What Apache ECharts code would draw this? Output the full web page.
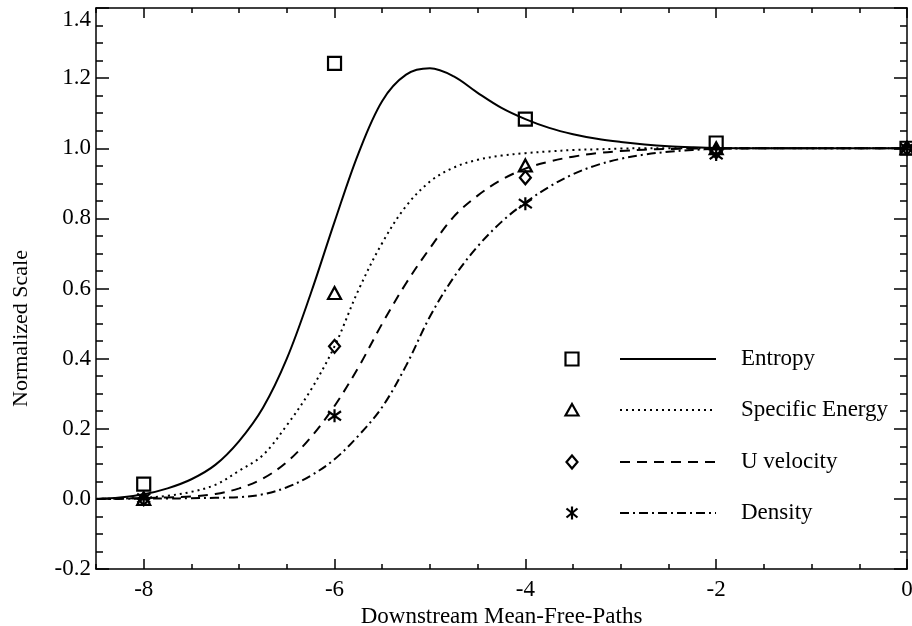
<!DOCTYPE html>
<html><head><meta charset="utf-8">
<script src="https://cdn.jsdelivr.net/npm/echarts@6/dist/echarts.min.js"></script>
<style>html,body{margin:0;padding:0;background:#fff}#c{width:912px;height:626px}</style>
</head><body><div id="c"></div>
<script>
// ---- data ----
const curveX = [-8.5,-8.25,-8,-7.75,-7.5,-7.25,-7,-6.75,-6.5,-6.25,-6,-5.75,-5.5,-5.25,-5,-4.75,-4.5,-4.25,-4,-3.75,-3.5,-3.25,-3,-2.75,-2.5,-2.25,-2,-1.5,-1,-0.5,0];
const entropyCurve = [0,0.004,0.013,0.03,0.056,0.097,0.165,0.26,0.40,0.585,0.79,0.985,1.135,1.21,1.228,1.205,1.158,1.115,1.083,1.058,1.04,1.027,1.018,1.011,1.006,1.003,1.001,1.0,1.0,1.0,1.0];
const energyCurve = [0,0.001,0.003,0.009,0.02,0.04,0.08,0.125,0.21,0.31,0.435,0.595,0.73,0.835,0.905,0.945,0.967,0.979,0.986,0.991,0.995,0.997,0.999,1.0,1.0,1.0,1.0,1.0,1.0,1.0,1.0];
const velocityCurve = [0,0.001,0.002,0.004,0.007,0.014,0.03,0.058,0.105,0.175,0.265,0.375,0.50,0.615,0.715,0.805,0.865,0.91,0.942,0.962,0.976,0.986,0.992,0.996,0.998,0.999,1.0,1.0,1.0,1.0,1.0];
const densityCurve = [0,0,0.001,0.001,0.002,0.003,0.005,0.013,0.033,0.066,0.113,0.18,0.262,0.38,0.52,0.632,0.72,0.79,0.845,0.89,0.926,0.952,0.97,0.982,0.99,0.995,0.998,1.0,1.0,1.0,1.0];

const markerX = [-8,-6,-4,-2,0];
const entropyMarks = [0.042,1.242,1.083,1.015,1.0];
const energyMarks = [0.0,0.587,0.951,1.0,1.0];
const velocityMarks = [0.0,0.435,0.916,0.99,1.0];
const densityMarks = [0.002,0.237,0.842,0.982,1.0];

const seriesNames = ['Entropy','Specific Energy','U velocity','Density'];
const xMajorTicks = [-8,-6,-4,-2,0];
const xName = 'Downstream Mean-Free-Paths';
const yName = 'Normalized Scale';

// ---- styles ----
const FONT = '"Liberation Serif", "Times New Roman", serif';
const BLACK = '#000';
const dashes = ['solid', [2,4], [10,7], [9,4,2,4]];
const starPath = 'path://M10,0L10,20M1.5,3L18.5,17M1.5,17L18.5,3';
const symbols = [
  {symbol:'rect', size:13},
  {symbol:'triangle', size:[13,12]},
  {symbol:'diamond', size:[11,13]},
  {symbol:starPath, size:13}
];
const curves = [entropyCurve, energyCurve, velocityCurve, densityCurve];
const marks = [entropyMarks, energyMarks, velocityMarks, densityMarks];

const zip = (xs, ys) => xs.map((x,i)=>[x, ys[i]]);

const series = [];
curves.forEach((c,i)=>{
  series.push({
    name: seriesNames[i], type:'line', data: zip(curveX, c),
    smooth: 0.35, showSymbol:false, symbol:'none',
    lineStyle:{color:BLACK, width:2, type:dashes[i]}, z:2, silent:true
  });
});
marks.forEach((m,i)=>{
  series.push({
    name: seriesNames[i]+' data', type:'scatter', data: zip(markerX, m),
    symbol: symbols[i].symbol, symbolSize: symbols[i].size,
    itemStyle:{color:'transparent', borderColor:BLACK, borderWidth:2.2, opacity:1},
    z:3, silent:true
  });
});

const hiddenLine = {show:false, onZero:false};
const axisCommon = {
  type:'value', min:-8.5, max:0,
  splitLine:{show:false},
  axisLine:{show:true, onZero:false, lineStyle:{color:BLACK, width:1.5}}
};
const xAxes = [
  Object.assign({}, axisCommon, {position:'bottom',
    axisTick:{show:true, inside:true, length:10, customValues:xMajorTicks, lineStyle:{color:BLACK, width:1.5}},
    axisLabel:{show:true, customValues:xMajorTicks, color:BLACK, fontFamily:FONT, fontSize:23, margin:9},
    name:xName, nameLocation:'middle', nameGap:33,
    nameTextStyle:{color:BLACK, fontFamily:FONT, fontSize:23}}),
  Object.assign({}, axisCommon, {position:'bottom', interval:0.5, axisLine:hiddenLine,
    axisTick:{show:true, inside:true, length:5, lineStyle:{color:BLACK, width:1.5}},
    axisLabel:{show:false}}),
  Object.assign({}, axisCommon, {position:'top',
    axisTick:{show:true, inside:true, length:10, customValues:xMajorTicks, lineStyle:{color:BLACK, width:1.5}},
    axisLabel:{show:false}}),
  Object.assign({}, axisCommon, {position:'top', interval:0.5, axisLine:hiddenLine,
    axisTick:{show:true, inside:true, length:5, lineStyle:{color:BLACK, width:1.5}},
    axisLabel:{show:false}})
];
const yCommon = {
  type:'value', min:-0.2, max:1.4, interval:0.2,
  splitLine:{show:false},
  axisLine:{show:true, onZero:false, lineStyle:{color:BLACK, width:1.5}},
  axisTick:{show:true, inside:true, length:13, lineStyle:{color:BLACK, width:1.5}},
  minorTick:{show:true, splitNumber:4, length:7, lineStyle:{color:BLACK, width:1.5}}
};
const yAxes = [
  Object.assign({}, yCommon, {position:'left',
    axisLabel:{show:true, color:BLACK, fontFamily:FONT, fontSize:23, margin:5,
      verticalAlignMaxLabel:'top',
      formatter: v => v.toFixed(1)},
    name:yName, nameLocation:'middle', nameGap:64,
    nameTextStyle:{color:BLACK, fontFamily:FONT, fontSize:22, padding:[0,80,0,0]}}),
  Object.assign({}, yCommon, {position:'right', axisLabel:{show:false}})
];

// legend drawn as graphic elements (symbol | line sample | text)
const legendRowsY = [359, 410, 462, 513];
const symX = 572, lineX1 = 620, lineX2 = 716, textX = 741;
const graphic = [];
legendRowsY.forEach((y,i)=>{
  const st = {fill:'none', stroke:BLACK, lineWidth:2.2};
  if (i===0) graphic.push({type:'rect', shape:{x:symX-6.5, y:y-6.5, width:13, height:13}, style:st});
  if (i===1) graphic.push({type:'polygon', shape:{points:[[symX,y-6],[symX+6.5,y+5.5],[symX-6.5,y+5.5]]}, style:st});
  if (i===2) graphic.push({type:'polygon', shape:{points:[[symX,y-6.5],[symX+5.5,y],[symX,y+6.5],[symX-5.5,y]]}, style:st});
  if (i===3) {
    graphic.push({type:'line', shape:{x1:symX, y1:y-6.5, x2:symX, y2:y+6.5}, style:st});
    graphic.push({type:'line', shape:{x1:symX-5.5, y1:y-4.5, x2:symX+5.5, y2:y+4.5}, style:st});
    graphic.push({type:'line', shape:{x1:symX-5.5, y1:y+4.5, x2:symX+5.5, y2:y-4.5}, style:st});
  }
  const dash = dashes[i];
  graphic.push({type:'line', shape:{x1:lineX1, y1:y, x2:lineX2, y2:y},
    style:{stroke:BLACK, lineWidth:2, lineDash: dash==='solid'?null:dash}});
  graphic.push({type:'text', x:textX, y:y, style:{text:seriesNames[i], fill:BLACK,
    font:'23px "Liberation Serif", serif', verticalAlign:'middle', align:'left'}});
});

const chart = echarts.init(document.getElementById('c'), null, {renderer:'canvas'});
chart.setOption({
  animation:false,
  backgroundColor:'#fff',
  grid:{left:96, right:5, top:8, bottom:57, containLabel:false, outerBoundsMode:'none'},
  xAxis: xAxes,
  yAxis: yAxes,
  series: series,
  graphic: graphic
});
</script></body></html>
